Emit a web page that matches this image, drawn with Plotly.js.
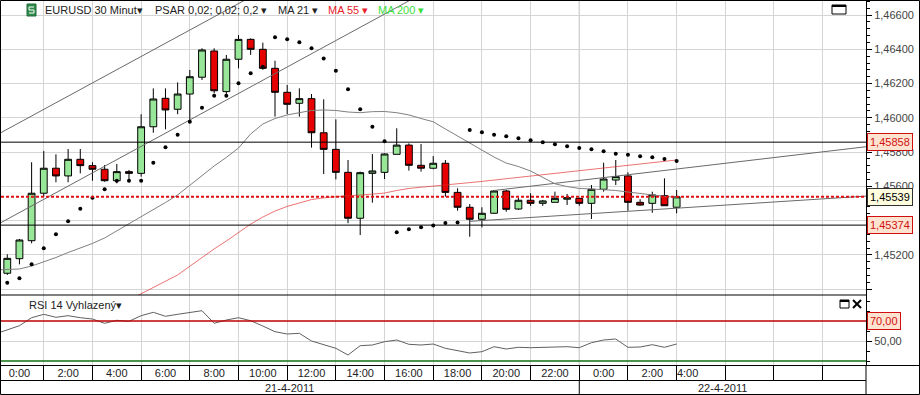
<!DOCTYPE html>
<html><head><meta charset="utf-8">
<script src="https://cdn.plot.ly/plotly-3.0.1.min.js"></script>
<style>html,body{margin:0;padding:0;background:#fff}#chart{width:920px;height:395px}</style>
</head><body><div id="chart"></div>
<script>
// ---------------- data ----------------
const instrument = 'EURUSD 30 Minut';
const firstCandleSlot = 1; // 30-minute slots counted from 21-4-2011 0:00
const openP = [1.45093,1.45178,1.45283,1.45560,1.45706,1.45661,1.45758,1.45721,1.45700,1.45633,
  1.45686,1.45676,1.45948,1.46114,1.46050,1.46139,1.46237,1.46390,1.46153,1.46342,
  1.46458,1.46400,1.46289,1.46149,1.46085,1.46112,1.45913,1.45816,1.45682,1.45414,
  1.45676,1.45682,1.45787,1.45841,1.45723,1.45706,1.45735,1.45565,1.45478,1.45408,
  1.45443,1.45573,1.45468,1.45519,1.45501,1.45507,1.45525,1.45530,1.45501,1.45583,
  1.45637,1.45661,1.45507,1.45501,1.45546,1.45478];
const highP = [1.45204,1.45293,1.45741,1.45806,1.45787,1.45818,1.45818,1.45741,1.45725,1.45731,
  1.45696,1.46021,1.46172,1.46172,1.46207,1.46279,1.46406,1.46406,1.46367,1.46483,
  1.46464,1.46439,1.46333,1.46192,1.46172,1.46139,1.46108,1.45991,1.45754,1.45686,
  1.45789,1.45793,1.45939,1.45851,1.45847,1.45777,1.45754,1.45589,1.45497,1.45478,
  1.45579,1.45579,1.45534,1.45560,1.45521,1.45569,1.45556,1.45534,1.45608,1.45738,
  1.45754,1.45682,1.45525,1.45569,1.45647,1.45579];
const lowP = [1.45083,1.45145,1.45268,1.45540,1.45624,1.45624,1.45676,1.45633,1.45627,1.45618,
  1.45627,1.45657,1.45913,1.45933,1.46021,1.45977,1.46221,1.46143,1.46127,1.46289,
  1.46367,1.46280,1.46007,1.46022,1.46007,1.45826,1.45672,1.45641,1.45385,1.45316,
  1.45505,1.45643,1.45787,1.45692,1.45686,1.45700,1.45540,1.45458,1.45306,1.45361,
  1.45440,1.45452,1.45462,1.45486,1.45486,1.45507,1.45491,1.45487,1.45410,1.45569,
  1.45608,1.45458,1.45487,1.45446,1.45487,1.45443];
const closeP = [1.45180,1.45287,1.45560,1.45706,1.45661,1.45758,1.45721,1.45700,1.45633,1.45686,
  1.45676,1.45948,1.46110,1.46046,1.46139,1.46240,1.46396,1.46158,1.46342,1.46458,
  1.46400,1.46289,1.46149,1.46079,1.46112,1.45913,1.45816,1.45682,1.45414,1.45680,
  1.45690,1.45789,1.45841,1.45723,1.45706,1.45735,1.45565,1.45478,1.45408,1.45443,
  1.45573,1.45466,1.45519,1.45501,1.45515,1.45530,1.45534,1.45501,1.45583,1.45643,
  1.45657,1.45507,1.45491,1.45550,1.45487,1.45539];
const psarStart = 1;
const psar = [1.45038,1.45064,1.45145,1.45239,1.45320,1.45396,1.45470,1.45534,1.45583,1.45633,
  1.45633,1.45633,1.45738,1.45828,1.45902,1.45977,1.46059,1.46129,1.46129,1.46202,
  1.46260,1.46298,1.46470,1.46458,1.46441,1.46406,1.46347,1.46275,1.46167,1.46050,
  1.45948,1.45863,1.45332,1.45350,1.45361,1.45371,1.45386,1.45389,1.45929,1.45916,
  1.45902,1.45892,1.45881,1.45869,1.45857,1.45846,1.45834,1.45824,1.45816,1.45805,
  1.45791,1.45785,1.45776,1.45770,1.45760,1.45748];
const ma21Start = 0;
const ma21 = [1.45112,1.45115,1.45118,1.45135,1.45159,1.45185,1.45214,1.45240,1.45267,1.45299,1.45340,
  1.45380,1.45421,1.45462,1.45506,1.45550,1.45608,1.45663,1.45719,1.45769,1.45824,
  1.45906,1.45964,1.45996,1.46017,1.46030,1.46043,1.46046,1.46043,1.46034,1.46030,
  1.46036,1.46037,1.46030,1.46017,1.45996,1.45977,1.45935,1.45894,1.45853,1.45812,
  1.45771,1.45736,1.45716,1.45690,1.45652,1.45615,1.45599,1.45588,1.45585,1.45582,
  1.45576,1.45567,1.45558,1.45550,1.45542,1.45536];
const ma55Start = 11;
const ma55 = [1.44937,1.44973,1.45009,1.45044,1.45083,1.45134,1.45185,1.45235,1.45281,1.45331,
  1.45380,1.45421,1.45456,1.45483,1.45505,1.45523,1.45533,1.45540,1.45546,1.45549,
  1.45553,1.45561,1.45576,1.45588,1.45595,1.45601,1.45606,1.45614,1.45622,1.45629,
  1.45637,1.45645,1.45652,1.45661,1.45668,1.45676,1.45684,1.45692,1.45700,1.45707,
  1.45715,1.45723,1.45731,1.45739,1.45746,1.45754];
const rsiStart = 0;
const rsi = [57,61.5,65.3,73.3,76.7,73.7,75.3,73.3,72,67.7,
  70.7,69.7,75.3,78.7,74.7,76.7,78.7,80.3,67.7,71,
  73.3,70.3,65,59.3,57,57.7,50,46.7,42.7,36,
  45.3,46,49.3,51,46.7,46,47,42.7,40,38,
  39.3,44.3,42,43.7,43.3,43.7,44.3,44.3,43.3,48.3,
  51,52,43.7,44,46.3,43.7,47];
const rsiLevels = [70, 30];
const priceLevels = [1.45858, 1.45374];
// price grid ticks and which of them carry a visible label
const priceTicks = [1.450,1.452,1.454,1.456,1.458,1.460,1.462,1.464,1.466];
const priceTickShown = [false,true,false,true,true,true,true,true,true];
// trend lines: [slot, price] start and end points
const trendFrom = [[0,1.45895],[0,1.45370],[41,1.45576],[39,1.45396]];
const trendTo   = [[22,1.46744],[36,1.46760],[72,1.45835],[72,1.45545]];
const hourLabels = ['0:00','2:00','4:00','6:00','8:00','10:00','12:00','14:00','16:00','18:00','20:00','22:00','0:00','2:00','4:00'];
const dayLabels = ['21-4-2011','22-4-2011'];
const legendItems = [['PSAR 0,02; 0,02; 0,2 ▾','#222'],['MA 21 ▾','#222'],['MA 55 ▾','#e8202a'],['MA 200 ▾','#3ce03c']];
const rsiTitle = 'RSI 14 Vyhlazený▾';

// ---------------- layout helpers ----------------
const W=920,H=395,L=1,R=54,T=0,B=30;
const PW=W-L-R, PH=H-T-B;
const px = v => (v-L)/PW;
const py = v => 1-(v-T)/PH;
const xRange=[0.485,71.56];
const split = py(295);
const slots = (s,n)=>Array.from({length:n},(_,k)=>s+k);
const fmt5 = v => v.toFixed(5).replace('.',',');
const FONT='Liberation Sans, Arial, sans-serif';
const GRID='#d4d4d4';

const nC = closeP.length;
const cx = slots(firstCandleSlot,nC);
const gridSlots = []; for(let s=0;s<=68;s+=4) gridSlots.push(s);
const labelPos = hourLabels.map((t,k)=> k===hourLabels.length-1 ? 4*k+0.9 : 4*k+2);

const traces = [];
for(let k=0;k<trendFrom.length;k++){
  traces.push({type:'scatter',mode:'lines',x:[trendFrom[k][0],trendTo[k][0]],y:[trendFrom[k][1],trendTo[k][1]],
    line:{color:'#6a6a6a',width:1},hoverinfo:'skip',showlegend:false});
}
traces.push({type:'scatter',mode:'lines',x:slots(ma21Start,ma21.length),y:ma21,line:{color:'#808080',width:1},showlegend:false});
traces.push({type:'scatter',mode:'lines',x:slots(ma55Start,ma55.length),y:ma55,line:{color:'rgba(225,40,40,0.65)',width:1},showlegend:false});
traces.push({type:'candlestick',x:cx,open:openP,high:highP,low:lowP,close:closeP,whiskerwidth:0,
  increasing:{line:{color:'#000',width:1},fillcolor:'#98e698'},
  decreasing:{line:{color:'#000',width:1},fillcolor:'#e60000'},showlegend:false});
traces.push({type:'scatter',mode:'markers',x:slots(psarStart,psar.length),y:psar,marker:{color:'#000',size:4},showlegend:false});
traces.push({type:'scatter',mode:'lines',x:slots(rsiStart,rsi.length),y:rsi,xaxis:'x2',yaxis:'y2',line:{color:'#606060',width:1},showlegend:false});
traces.push({type:'scatter',mode:'markers',x:[null],y:[null],xaxis:'x3',yaxis:'y2',showlegend:false});

const shapes = [];
shapes.push({type:'line',xref:'x',yref:'paper',x0:48,x1:48,y0:0,y1:1,line:{color:'#a8a8a8',width:1},layer:'between'});
shapes.push({type:'line',xref:'x',yref:'paper',x0:48,x1:48,y0:py(380),y1:py(394.5),line:{color:'#000',width:1}});
priceLevels.forEach(v=>shapes.push({type:'line',xref:'paper',yref:'y',x0:0,x1:1,y0:v,y1:v,line:{color:'#000',width:1},layer:'above'}));
const last = closeP[nC-1];
shapes.push({type:'line',xref:'paper',yref:'y',x0:0,x1:1,y0:last,y1:last,line:{color:'#e01010',width:2,dash:'3px,2px'},layer:'above'});
shapes.push({type:'line',xref:'paper',yref:'y2',x0:0,x1:1,y0:rsiLevels[0],y1:rsiLevels[0],line:{color:'#c00000',width:1.5}});
shapes.push({type:'line',xref:'paper',yref:'y2',x0:0,x1:1,y0:rsiLevels[1],y1:rsiLevels[1],line:{color:'#107010',width:1.5}});
shapes.push({type:'line',xref:'paper',yref:'paper',x0:px(0),x1:1,y0:split,y1:split,line:{color:'#000',width:1}});
shapes.push({type:'line',xref:'paper',yref:'paper',x0:px(0),x1:px(920),y0:py(365.5),y1:py(365.5),line:{color:'#000',width:1}});
shapes.push({type:'line',xref:'paper',yref:'paper',x0:px(0),x1:1,y0:py(380.5),y1:py(380.5),line:{color:'#000',width:1}});
shapes.push({type:'line',xref:'paper',yref:'paper',x0:1,x1:1,y0:py(365),y1:py(394.5),line:{color:'#000',width:1}});
shapes.push({type:'rect',xref:'paper',yref:'paper',x0:px(0.5),x1:px(919.5),y0:py(0.5),y1:py(394.5),line:{color:'#000',width:1}});
shapes.push({type:'rect',xref:'paper',yref:'paper',x0:px(27),x1:px(36),y0:py(4),y1:py(16),fillcolor:'#2f8a4c',line:{color:'#1f6a38',width:1}});
[[29,34,7,7],[29,34,10,10],[29,34,13,13],[29,29,7,10],[34,34,10,13]].forEach(a=>shapes.push({type:'line',xref:'paper',yref:'paper',x0:px(a[0]),x1:px(a[1]),y0:py(a[2]),y1:py(a[3]),line:{color:'#fff',width:1}}));
shapes.push({type:'rect',xref:'paper',yref:'paper',x0:px(832),x1:px(846),y0:py(5),y1:py(14),fillcolor:'#fff',line:{color:'#000',width:1}});
shapes.push({type:'line',xref:'paper',yref:'paper',x0:px(832),x1:px(846),y0:py(6),y1:py(6),line:{color:'#000',width:2}});
shapes.push({type:'rect',xref:'paper',yref:'paper',x0:px(840),x1:px(849),y0:py(300),y1:py(308),fillcolor:'#fff',line:{color:'#000',width:1}});
shapes.push({type:'line',xref:'paper',yref:'paper',x0:px(840),x1:px(849),y0:py(301),y1:py(301),line:{color:'#000',width:2}});
shapes.push({type:'line',xref:'paper',yref:'paper',x0:px(853),x1:px(861),y0:py(300),y1:py(308),line:{color:'#000',width:2}});
shapes.push({type:'line',xref:'paper',yref:'paper',x0:px(853),x1:px(861),y0:py(308),y1:py(300),line:{color:'#000',width:2}});

const ann = [];
const txt = (x,y,t,c,opts)=>Object.assign({xref:'paper',yref:'paper',x:px(x),y:py(y),text:t,showarrow:false,xanchor:'left',yanchor:'middle',font:{family:FONT,size:11,color:c}},opts||{});
ann.push(txt(43,10,instrument+'▾','#222'));
const legX=[153,276,326,376];
legendItems.forEach((it,k)=>ann.push(txt(legX[k],10,it[0],it[1])));
ann.push(txt(27,305,rsiTitle,'#222'));
const box=(yref,y,t,c,bg,bc)=>({xref:'paper',yref:yref,x:px(867),y:y,text:t,showarrow:false,xanchor:'left',yanchor:'middle',
  font:{family:FONT,size:11,color:c},bgcolor:bg,bordercolor:bc,borderwidth:1,borderpad:2});
ann.push(box('y',priceLevels[0],fmt5(priceLevels[0]),'#d01010','#fde3d0','#d01010'));
ann.push(box('y',last,fmt5(last),'#000','#ffffe0','#303030'));
ann.push(box('y',priceLevels[1],fmt5(priceLevels[1]),'#d01010','#fde3d0','#d01010'));
ann.push(box('y2',rsiLevels[0],rsiLevels[0].toFixed(2).replace('.',','),'#d01010','#fde3d0','#d01010'));
const leftSlot = xRange[0]-0.5/12.17*2;
ann.push({xref:'x',yref:'paper',x:(leftSlot+48)/2,y:py(387.5),text:dayLabels[0],showarrow:false,xanchor:'center',yanchor:'middle',font:{family:FONT,size:11,color:'#222'}});
ann.push({xref:'x',yref:'paper',x:(48+xRange[1])/2,y:py(387.5),text:dayLabels[1],showarrow:false,xanchor:'center',yanchor:'middle',font:{family:FONT,size:11,color:'#222'}});

const tickFont={family:FONT,size:11,color:'#444'};
const layout = {
  width:W,height:H,margin:{l:L,r:R,t:T,b:B,pad:0},paper_bgcolor:'#fff',plot_bgcolor:'#fff',
  separators:', ',showlegend:false,hovermode:false,dragmode:false,boxgap:0.2,boxgroupgap:0.3,
  xaxis:{domain:[0,1],anchor:'y',range:xRange,tickmode:'array',tickvals:gridSlots,showticklabels:false,ticks:'',
    showgrid:true,gridcolor:GRID,gridwidth:1,zeroline:false,showline:false,rangeslider:{visible:false},fixedrange:true},
  xaxis2:{domain:[0,1],anchor:'y2',range:xRange,tickmode:'array',tickvals:gridSlots,showticklabels:false,ticks:'outside',ticklen:15,
    tickcolor:'#000',tickwidth:1,showgrid:true,gridcolor:GRID,zeroline:false,showline:false,fixedrange:true},
  xaxis3:{overlaying:'x2',anchor:'y2',range:xRange,tickmode:'array',tickvals:labelPos,ticktext:hourLabels,ticks:'',
    showgrid:false,zeroline:false,showline:false,tickfont:{family:FONT,size:11,color:'#222'},fixedrange:true},
  yaxis:{domain:[split,1],anchor:'x',side:'right',range:[1.449661,1.466877],tickmode:'array',tickvals:priceTicks,
    ticktext:priceTicks.map((v,k)=>priceTickShown[k]?fmt5(v):''),
    ticks:'outside',ticklen:5,tickcolor:'#000',showline:true,linecolor:'#000',linewidth:1,gridcolor:GRID,zeroline:false,
    minor:{ticks:'outside',ticklen:3,dtick:0.0004,tick0:1.45,tickcolor:'#000',showgrid:false},tickfont:tickFont,fixedrange:true},
  yaxis2:{domain:[0,split],anchor:'x2',side:'right',range:[26,96],tickmode:'array',tickvals:[50],tickformat:'.2f',
    ticks:'outside',ticklen:5,tickcolor:'#000',showline:true,linecolor:'#000',gridcolor:GRID,zeroline:false,
    minor:{ticks:'outside',ticklen:3,tickvals:[30,40,60,70,80,90],tickcolor:'#000',showgrid:false},tickfont:tickFont,fixedrange:true},
  shapes:shapes,annotations:ann
};
Plotly.newPlot('chart',traces,layout,{staticPlot:true,displayModeBar:false});
</script></body></html>
